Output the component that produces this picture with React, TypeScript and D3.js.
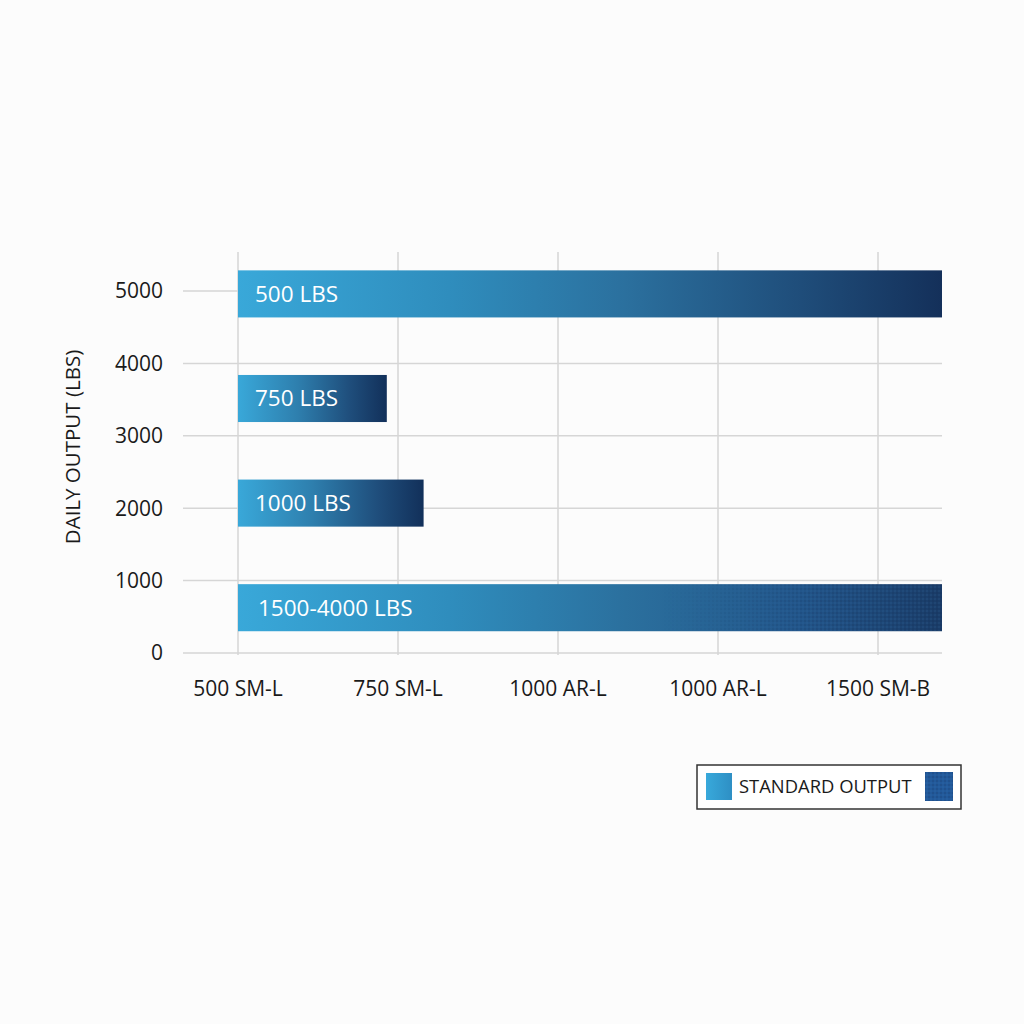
import React from "react";
import * as d3 from "d3";

const xCategories = ["500 SM-L", "750 SM-L", "1000 AR-L", "1000 AR-L", "1500 SM-B"];
const yTicks = [0, 1000, 2000, 3000, 4000, 5000];
const barLabels = ["500 LBS", "750 LBS", "1000 LBS", "1500-4000 LBS"];
// bar end positions, in x-category index units (0 = "500 SM-L")
const barEnds = [4.4, 0.93, 1.16, 4.4];
const barTextured = [false, false, false, true];
const yTitle = "DAILY OUTPUT (LBS)";
const legendLabel = "STANDARD OUTPUT";

const W = 1024;
const H = 1024;
const FONT = "'Open Sans', 'Noto Sans', sans-serif";

export default function App() {
  const x = d3.scaleLinear().domain([0, xCategories.length - 1]).range([238, 878]);
  const y = d3.scaleLinear().domain([0, 5000]).range([653, 291]);
  const yBand = d3
    .scaleBand<string>()
    .domain(barLabels)
    .range([241.6, 660])
    .paddingInner(0.55)
    .paddingOuter(0.275);

  const gridLeft = 183;
  const gridRight = 942;
  const gridTop = 252;
  const gridBottom = 655;

  return (
    <svg
      width={W}
      height={H}
      viewBox={`0 0 ${W} ${H}`}
      style={{ position: "absolute", left: 0, top: 0, background: "#fcfcfc" }}
    >
      <defs>
        <linearGradient id="barGrad" x1="0" y1="0" x2="1" y2="0">
          <stop offset="0%" stopColor="#39a8d9" />
          <stop offset="30%" stopColor="#2f8dbd" />
          <stop offset="55%" stopColor="#2b709e" />
          <stop offset="80%" stopColor="#1f4d7a" />
          <stop offset="100%" stopColor="#14305a" />
        </linearGradient>
        <linearGradient id="barGradShort" x1="0" y1="0" x2="1" y2="0">
          <stop offset="0%" stopColor="#39a8d9" />
          <stop offset="40%" stopColor="#2e7fae" />
          <stop offset="75%" stopColor="#1f4e7c" />
          <stop offset="100%" stopColor="#12305a" />
        </linearGradient>
        <linearGradient id="barGradTex" x1="0" y1="0" x2="1" y2="0">
          <stop offset="0%" stopColor="#39a8d9" />
          <stop offset="30%" stopColor="#2f8dbd" />
          <stop offset="55%" stopColor="#2b709e" />
          <stop offset="80%" stopColor="#22558a" />
          <stop offset="100%" stopColor="#1a3c68" />
        </linearGradient>
        <linearGradient id="legendGrad" x1="0" y1="0" x2="1" y2="0">
          <stop offset="0%" stopColor="#38a9db" />
          <stop offset="100%" stopColor="#2e8fc4" />
        </linearGradient>
        <pattern id="dots" width="4" height="4" patternUnits="userSpaceOnUse">
          <rect width="4" height="4" fill="none" />
          <circle cx="1" cy="1" r="0.8" fill="#0d2648" opacity="0.35" />
          <circle cx="3" cy="3" r="0.7" fill="#4a85c0" opacity="0.3" />
        </pattern>
        <linearGradient id="texFade" x1="0" y1="0" x2="1" y2="0">
          <stop offset="0%" stopColor="#fff" stopOpacity="0" />
          <stop offset="60%" stopColor="#fff" stopOpacity="0" />
          <stop offset="85%" stopColor="#fff" stopOpacity="1" />
          <stop offset="100%" stopColor="#fff" stopOpacity="1" />
        </linearGradient>
        <mask id="texMask" maskContentUnits="objectBoundingBox">
          <rect x="0" y="0" width="1" height="1" fill="url(#texFade)" />
        </mask>
      </defs>

      {/* horizontal gridlines */}
      {yTicks.map((t) => (
        <line
          key={`h${t}`}
          x1={gridLeft}
          x2={gridRight}
          y1={y(t)}
          y2={y(t)}
          stroke="#d6d6d6"
          strokeWidth={1.5}
        />
      ))}
      {/* vertical gridlines */}
      {xCategories.map((c, i) => (
        <line
          key={`v${i}`}
          x1={x(i)}
          x2={x(i)}
          y1={gridTop}
          y2={gridBottom}
          stroke="#d6d6d6"
          strokeWidth={1.5}
        />
      ))}

      {/* y tick labels */}
      {yTicks.map((t) => (
        <text
          key={`yl${t}`}
          x={163}
          y={y(t)}
          dy="0.35em"
          textAnchor="end"
          fontFamily={FONT}
          fontSize={21}
          fill="#1a1a1a"
        >
          {t}
        </text>
      ))}

      {/* x tick labels */}
      {xCategories.map((c, i) => (
        <text
          key={`xl${i}`}
          x={x(i)}
          y={689}
          dy="0.35em"
          textAnchor="middle"
          fontFamily={FONT}
          fontSize={21}
          fill="#1a1a1a"
        >
          {c}
        </text>
      ))}

      {/* y title */}
      <text
        transform={`translate(73, ${447}) rotate(-90)`}
        textAnchor="middle"
        dy="0.35em"
        fontFamily={FONT}
        fontSize={20.5}
        fill="#1a1a1a"
      >
        {yTitle}
      </text>

      {/* bars */}
      {barLabels.map((lab, i) => {
        const x0 = x(0);
        const x1 = x(barEnds[i]);
        const yy = yBand(lab) as number;
        const h = yBand.bandwidth();
        const fill = barTextured[i]
          ? "url(#barGradTex)"
          : barEnds[i] < 2
          ? "url(#barGradShort)"
          : "url(#barGrad)";
        return (
          <g key={lab}>
            <rect x={x0} y={yy} width={x1 - x0} height={h} fill={fill} />
            {barTextured[i] && (
              <rect
                x={x0}
                y={yy}
                width={x1 - x0}
                height={h}
                fill="url(#dots)"
                mask="url(#texMask)"
              />
            )}
            <text
              x={x0 + (i === 3 ? 20 : 17)}
              y={yy + h / 2}
              dy="0.35em"
              fontFamily={FONT}
              fontSize={22.5}
              fill="#ffffff"
            >
              {lab}
            </text>
          </g>
        );
      })}

      {/* legend */}
      <g>
        <rect x={697} y={765} width={264} height={44} fill="#ffffff" stroke="#333" strokeWidth={1.5} />
        <rect x={706} y={773} width={26} height={27} fill="url(#legendGrad)" />
        <text
          x={739}
          y={787}
          dy="0.35em"
          fontFamily={FONT}
          fontSize={18.4}
          fill="#1a1a1a"
        >
          {legendLabel}
        </text>
        <rect x={925} y={772} width={28} height={29} fill="#22599a" />
        <rect x={925} y={772} width={28} height={29} fill="url(#dots)" />
      </g>
    </svg>
  );
}
